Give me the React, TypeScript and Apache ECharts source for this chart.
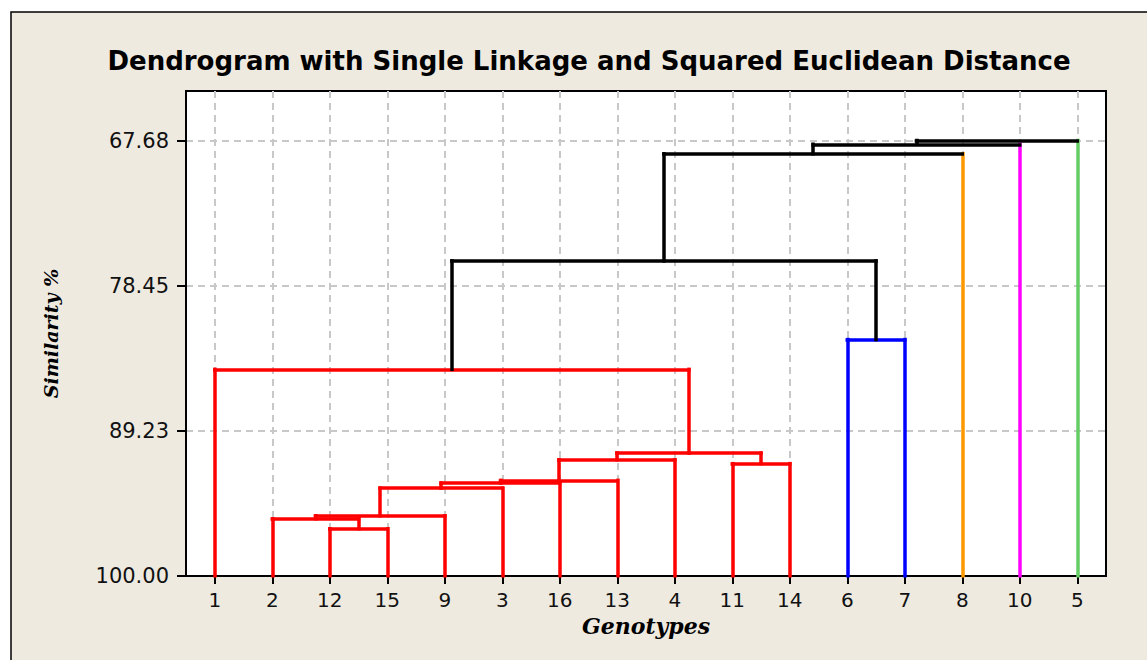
import { useEffect, useRef } from "react";
import * as echarts from "echarts";

// Leaf order along the horizontal axis
const leaves = ["1", "2", "12", "15", "9", "3", "16", "13", "4", "11", "14", "6", "7", "8", "10", "5"];
// Final cluster of each leaf (same order as leaves)
const leafGroup = ["A", "A", "A", "A", "A", "A", "A", "A", "A", "A", "A", "B", "B", "C", "D", "E"];

// Agglomeration steps: step k creates cluster "C{k+1}"
const mergeLeft = ["12", "2", "C2", "C3", "C4", "C5", "C6", "11", "C7", "1", "6", "C10", "C12", "C13", "C14"];
const mergeRight = ["15", "C1", "9", "3", "16", "13", "4", "14", "C8", "C9", "7", "C11", "8", "10", "5"];
const mergeSimilarity = [96.49, 95.75, 95.53, 93.48, 93.1, 92.9, 91.37, 91.66, 90.88, 84.66, 82.45, 76.61, 68.66, 67.96, 67.68];
const mergeGroup = ["A", "A", "A", "A", "A", "A", "A", "A", "A", "A", "B", "link", "link", "link", "link"];

// Similarity tick labels
const yTicks = [67.68, 78.45, 89.23, 100.0];

const groupColors: Record<string, string> = {
  A: "#FF0000",
  B: "#0000FF",
  C: "#FF9900",
  D: "#FF00FF",
  E: "#66CC66",
  link: "#000000",
};

type Node = { x: number; h: number; leaf: boolean; group: string };

function buildSegments() {
  const nodes: Record<string, Node> = {};
  leaves.forEach((name, i) => {
    nodes[name] = { x: i, h: 100, leaf: true, group: leafGroup[i] };
  });
  const segs: { coords: number[][]; lineStyle: { color: string } }[] = [];
  mergeLeft.forEach((l, k) => {
    const a = nodes[l];
    const b = nodes[mergeRight[k]];
    const h = mergeSimilarity[k];
    const g = mergeGroup[k];
    const col = groupColors[g];
    const childColor = (c: Node) =>
      g !== "link" ? col : c.leaf ? groupColors[c.group] : groupColors.link;
    segs.push({ coords: [[a.x, a.h], [a.x, h]], lineStyle: { color: childColor(a) } });
    segs.push({ coords: [[b.x, b.h], [b.x, h]], lineStyle: { color: childColor(b) } });
    segs.push({ coords: [[a.x, h], [b.x, h]], lineStyle: { color: col } });
    nodes["C" + (k + 1)] = { x: (a.x + b.x) / 2, h, leaf: false, group: g };
  });
  return segs;
}

export default function App() {
  const ref = useRef<HTMLDivElement>(null);

  useEffect(() => {
    if (!ref.current) return;
    const chart = echarts.init(ref.current, null, { renderer: "svg" });
    const leafIdx = leaves.map((_, i) => i);
    const gridLine = { show: true, lineStyle: { color: "#C8C8C8", type: [7, 5] as any, width: 2 } };

    chart.setOption({
      animation: false,
      backgroundColor: "#FFFFFF",
      graphic: [
        {
          type: "rect",
          z: -10,
          silent: true,
          shape: { x: 11, y: 12, width: 1160, height: 670 },
          style: { fill: "#EEEAE0", stroke: "#000", lineWidth: 1.5 },
        },
      ],
      title: {
        text: "Dendrogram with Single Linkage and Squared Euclidean Distance",
        left: 584,
        top: 43,
        textAlign: "center",
        textStyle: { fontFamily: "DejaVu Sans", fontWeight: "bold", fontSize: 26, color: "#000" },
      },
      grid: {
        left: 186,
        top: 91,
        right: 41,
        bottom: 84,
        show: true,
        backgroundColor: "#FFFFFF",
        borderColor: "#000",
        borderWidth: 2,
      },
      xAxis: {
        type: "value",
        min: -0.5,
        max: 15.5,
        name: "Genotypes",
        nameLocation: "middle",
        nameGap: 38,
        nameTextStyle: { fontFamily: "DejaVu Serif", fontStyle: "italic", fontWeight: "bold", fontSize: 22, color: "#000" },
        axisLine: { show: true, onZero: false, lineStyle: { color: "#000", width: 2 } },
        axisTick: { show: true, customValues: leafIdx, length: 8, lineStyle: { color: "#000", width: 2 } },
        axisLabel: {
          customValues: leafIdx,
          formatter: (v: number) => leaves[Math.round(v)] ?? "",
          fontFamily: "DejaVu Sans",
          fontSize: 20,
          color: "#111",
          margin: 14,
        },
        splitLine: gridLine,
      },
      yAxis: {
        type: "value",
        inverse: true,
        min: 64.0,
        max: 100,
        name: "Similarity %",
        nameLocation: "middle",
        nameGap: 126,
        nameTextStyle: { fontFamily: "DejaVu Serif", fontStyle: "italic", fontWeight: "bold", fontSize: 19, color: "#000" },
        axisLine: { show: true, onZero: false, lineStyle: { color: "#000", width: 2 } },
        axisTick: { show: true, customValues: yTicks, length: 9, lineStyle: { color: "#000", width: 2 } },
        axisLabel: {
          customValues: yTicks,
          formatter: (v: number) => v.toFixed(2),
          fontFamily: "DejaVu Sans",
          fontSize: 21,
          color: "#111",
          margin: 17,
        },
        splitLine: gridLine,
      },
      series: [
        {
          type: "lines",
          coordinateSystem: "cartesian2d",
          polyline: false,
          silent: true,
          z: 5,
          lineStyle: { width: 3.5, opacity: 1, curveness: 0, cap: "square" },
          data: buildSegments(),
        },
      ],
    });
    return () => chart.dispose();
  }, []);

  return <div ref={ref} style={{ position: "fixed", left: 0, top: 0, width: 1147, height: 660 }} />;
}
